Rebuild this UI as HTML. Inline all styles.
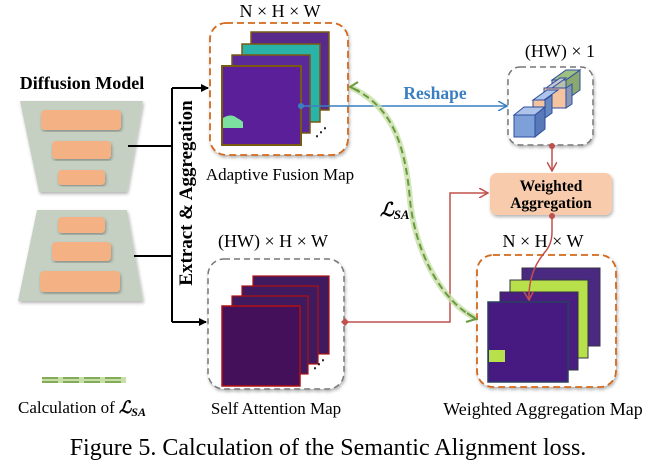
<!DOCTYPE html>
<html><head><meta charset="utf-8"><style>
body{margin:0;background:#fff;width:658px;height:467px;overflow:hidden}
svg{display:block;font-family:"Liberation Serif",serif}
</style></head><body>
<svg width="658" height="467" viewBox="0 0 658 467" xmlns="http://www.w3.org/2000/svg">
<defs>
<marker id="ak" markerWidth="8" markerHeight="8" refX="7" refY="4" orient="auto" markerUnits="userSpaceOnUse"><path d="M0,0 L8,4 L0,8 z" fill="#000"/></marker>
<marker id="ab" markerWidth="10" markerHeight="10" refX="9" refY="5" orient="auto" markerUnits="userSpaceOnUse"><path d="M0,0 L9,5 L0,10" fill="none" stroke="#3a7fc0" stroke-width="1.5"/></marker>
<marker id="ar" markerWidth="10" markerHeight="10" refX="9" refY="5" orient="auto" markerUnits="userSpaceOnUse"><path d="M0,0 L9,5 L0,10" fill="none" stroke="#c0504d" stroke-width="1.5"/></marker>
<filter id="sh"><feDropShadow dx="1" dy="2" stdDeviation="1.5" flood-opacity="0.3"/></filter>
</defs>

<!-- Diffusion model -->
<text x="82" y="89" font-size="18" font-weight="bold" text-anchor="middle">Diffusion Model</text>
<polygon points="20,101 143,101 127,192 39,192" fill="#c5d0c3" filter="url(#sh)"/>
<rect x="41" y="110" width="80" height="20" rx="4" fill="#f4b183" filter="url(#sh)"/>
<rect x="52" y="141" width="59" height="18" rx="4" fill="#f4b183" filter="url(#sh)"/>
<rect x="58" y="170" width="47" height="15" rx="4" fill="#f4b183" filter="url(#sh)"/>
<polygon points="37,210 127,210 143,301 18,301" fill="#c5d0c3" filter="url(#sh)"/>
<rect x="58" y="217" width="47" height="16" rx="4" fill="#f4b183" filter="url(#sh)"/>
<rect x="52" y="242" width="59" height="19" rx="4" fill="#f4b183" filter="url(#sh)"/>
<rect x="40" y="271" width="80" height="21" rx="4" fill="#f4b183" filter="url(#sh)"/>

<!-- black connectors -->
<path d="M128,146 H172 M134,256 H172 M172,88 V322" stroke="#000" stroke-width="2" fill="none"/>
<path d="M172,88 H208" stroke="#000" stroke-width="2" marker-end="url(#ak)"/>
<path d="M172,322 H206" stroke="#000" stroke-width="2" marker-end="url(#ak)"/>
<text transform="translate(192,193) rotate(-90)" font-size="19" font-weight="bold" text-anchor="middle">Extract &amp; Aggregation</text>

<!-- Adaptive Fusion -->
<text x="280" y="17" font-size="18" text-anchor="middle">N × H × W</text>
<rect x="210" y="23" width="138" height="132" rx="16" fill="#fff" stroke="#d2691e" stroke-width="1.8" stroke-dasharray="7,4" filter="url(#sh)"/>
<rect x="251" y="32" width="78" height="78" fill="#5a2a8a" stroke="#7a5a10" stroke-width="1.5"/>
<rect x="242" y="44" width="78" height="78" fill="#2ab3a8" stroke="#7a5a10" stroke-width="1.5"/>
<rect x="232" y="55" width="78" height="78" fill="#5a2a9a" stroke="#7a5a10" stroke-width="1.5"/>
<rect x="222" y="66" width="79" height="79" fill="#5c1f9a" stroke="#7a5a10" stroke-width="2"/>
<path d="M223,118 q8,-5 14,0 q4,2 6,4 v6 h-20z" fill="#7be0a0"/>
<text x="315" y="136" font-size="12" font-weight="bold">⋰</text>
<text x="280" y="180" font-size="17" text-anchor="middle">Adaptive Fusion Map</text>

<!-- Reshape -->
<circle cx="301" cy="106" r="3" fill="#3a7fc0"/>
<path d="M301,106 H507" stroke="#3a7fc0" stroke-width="1.5" marker-end="url(#ab)"/>
<text x="435" y="99" font-size="17.5" font-weight="bold" fill="#3a7fc0" text-anchor="middle">Reshape</text>

<!-- HW x 1 -->
<text x="560" y="57" font-size="18" text-anchor="middle">(HW) × 1</text>
<rect x="508" y="67" width="85" height="78" rx="12" fill="#fff" stroke="#777" stroke-width="1.5" stroke-dasharray="6,4" filter="url(#sh)"/>
<g stroke="#2e4ea0" stroke-width="1">
<!-- back to front cubes along diagonal -->
<polygon points="566,80 580,70 580,90 566,100" fill="#8aa870"/>
<polygon points="552,80 566,80 580,70 566,70" fill="#9fc080"/>
<rect x="552" y="80" width="14" height="20" fill="#b8c0b0"/>
<polygon points="552,88 566,88 566,108 552,108" fill="#f4c3a0"/>
<polygon points="546,88 560,78 566,78 552,88" fill="#c8c8d0"/>
<polygon points="566,88 572,84 572,104 566,108" fill="#8a98b8"/>
<rect x="544" y="88" width="22" height="20" fill="#f4c3a0"/>
<polygon points="533,100 547,90 558,90 544,100" fill="#aec4e8"/>
<rect x="533" y="100" width="12" height="18" fill="#f4c3a0"/>
<polygon points="545,100 552,95 552,113 545,118" fill="#6888c0"/>
<polygon points="514,115 524,107 545,107 535,115" fill="#aec4e8"/>
<rect x="514" y="115" width="21" height="22" fill="#7da0d8"/>
<polygon points="535,115 545,107 545,129 535,137" fill="#5878b8"/>
</g>
<path d="M552,145 V171" stroke="#c0504d" stroke-width="1.5" marker-end="url(#ar)"/>
<circle cx="552" cy="146" r="3" fill="#c0504d"/>

<!-- Weighted Aggregation -->
<rect x="490" y="173" width="122" height="42" rx="7" fill="#f8cbad" filter="url(#sh)"/>
<text x="551" y="191" font-size="15.5" font-weight="bold" text-anchor="middle">Weighted</text>
<text x="551" y="208" font-size="15.5" font-weight="bold" text-anchor="middle">Aggregation</text>

<!-- Self attention -->
<text x="273" y="247" font-size="18" text-anchor="middle">(HW) × H × W</text>
<rect x="208" y="259" width="136" height="130" rx="16" fill="#fff" stroke="#777" stroke-width="1.5" stroke-dasharray="6,4" filter="url(#sh)"/>
<rect x="253" y="276" width="76" height="78" fill="#3f1a5e" stroke="#b01010" stroke-width="1.2"/>
<rect x="242" y="286" width="76" height="78" fill="#3f1a5e" stroke="#b01010" stroke-width="1.2"/>
<rect x="232" y="296" width="76" height="78" fill="#3f1a5e" stroke="#b01010" stroke-width="1.2"/>
<rect x="222" y="306" width="78" height="80" fill="#45105a" stroke="#b01010" stroke-width="1.5"/>
<text x="313" y="368" font-size="12" font-weight="bold">⋰</text>
<text x="276" y="414" font-size="17" text-anchor="middle">Self Attention Map</text>

<!-- red from SA to WA -->
<path d="M345,322 H450 V193 H488" stroke="#c0504d" stroke-width="1.5" fill="none" marker-end="url(#ar)"/>
<path d="M345,318 l4,4 l-4,4 l-4,-4z" fill="#c0504d"/>

<!-- Weighted Aggregation Map -->
<text x="543" y="247" font-size="18" text-anchor="middle">N × H × W</text>
<rect x="477" y="255" width="139" height="132" rx="16" fill="#fff" stroke="#d2691e" stroke-width="1.8" stroke-dasharray="7,4" filter="url(#sh)"/>
<rect x="522" y="268" width="78" height="78" fill="#4a2a80" stroke="#334" stroke-width="1"/>
<rect x="510" y="280" width="78" height="78" fill="#b8e04a" stroke="#334" stroke-width="1"/>
<rect x="500" y="292" width="78" height="78" fill="#4a1e80" stroke="#334" stroke-width="1"/>
<rect x="488" y="302" width="80" height="80" fill="#461a80" stroke="#2a4060" stroke-width="1.5"/>
<path d="M489,350 h16 v12 h-16z" fill="#b8e04a"/>
<path d="M552,215 V232 Q552,244 545,252 Q528,272 529,300" stroke="#c0504d" stroke-width="1.5" fill="none" marker-end="url(#ar)"/>
<circle cx="552" cy="216" r="3" fill="#c0504d"/>
<text x="543" y="415" font-size="18" text-anchor="middle">Weighted Aggregation Map</text>

<!-- green curve -->
<path d="M475,318 C440,300 415,250 410,200 C405,140 390,105 350,87" stroke="#c8e0a8" stroke-width="6" fill="none" opacity="0.8"/>
<path d="M475,318 C440,300 415,250 410,200 C405,140 390,105 350,87" stroke="#6a9a40" stroke-width="2" fill="none" stroke-dasharray="7,4"/>
<path d="M358,82 L350,87 L359,91" stroke="#6a9a40" stroke-width="2" fill="none"/>
<path d="M467,313 L476,319 L466,322" stroke="#6a9a40" stroke-width="2" fill="none"/>
<text x="380" y="216" font-size="19" font-weight="bold" font-style="italic">ℒ<tspan font-size="13" dy="3">SA</tspan></text>

<!-- legend -->
<path d="M42,380 H126" stroke="#c8e0a8" stroke-width="6"/>
<path d="M42,378 H126 M42,382 H126" stroke="#6a9a40" stroke-width="1.5" stroke-dasharray="16,5"/>
<text x="18" y="413" font-size="17">Calculation of <tspan font-weight="bold" font-style="italic">ℒ<tspan font-size="12" dy="3">SA</tspan></tspan></text>

<text x="328" y="455" font-size="24" text-anchor="middle">Figure 5. Calculation of the Semantic Alignment loss.</text>
</svg>
</body></html>
